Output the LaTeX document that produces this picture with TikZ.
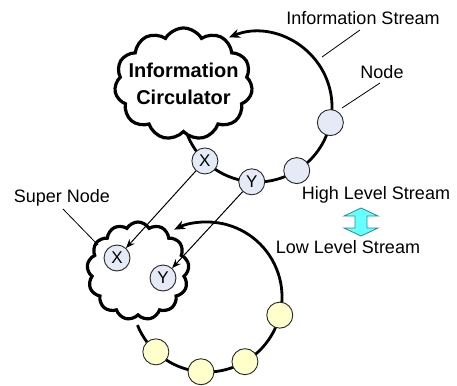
\documentclass[tikz,border=0pt]{standalone}
\usepackage{fontspec}
\setmainfont{Liberation Sans}
\usetikzlibrary{shapes.symbols,arrows.meta,calc}
\definecolor{nodeblue}{HTML}{E4EAF6}
\definecolor{nodeyellow}{HTML}{FFFFCC}
\definecolor{arrowcyan}{HTML}{66FFFF}
\definecolor{arrowedge}{HTML}{2E8B8B}
\begin{document}
\begin{tikzpicture}[x=1pt,y=-1pt,
  lbl/.style={font=\fontsize{18}{20}\selectfont, inner sep=0pt},
  cloudbox/.style={cloud, draw, line width=3.2pt, fill=white, inner sep=0pt},
  stream/.style={line width=2.8pt},
  leader/.style={line width=0.8pt},
  link/.style={line width=1pt, -{Stealth[length=9pt,width=7pt]}},
  ringnode/.style={circle, draw=black!85, line width=0.9pt, minimum size=26pt, inner sep=0pt, font=\fontsize{17}{17}\selectfont},
  bluenode/.style={ringnode, fill=nodeblue},
  yellownode/.style={ringnode, fill=nodeyellow}]
\useasboundingbox (0,0) rectangle (457,385);

% centres of the two rings
\coordinate (C1) at (257,107);
\coordinate (C2) at (207,297);

% clouds
\node[cloudbox, cloud puffs=11, cloud puff arc=120, minimum width=138pt, minimum height=112pt] (cloudA) at (183.5,84) {};
\node[align=center, inner sep=0pt, font=\bfseries\fontsize{20}{27}\selectfont] (cloudAtext) at (cloudA.center) {Information\\Circulator};
\node[cloudbox, cloud puffs=13, cloud puff arc=120, minimum width=102pt, minimum height=98pt] (cloudB) at (138,271) {};

% streams
\draw[stream, -{Stealth[length=11pt,width=9pt]}] ($(C1)+(158:75)$) arc[start angle=158, end angle=-112, radius=75];
\draw[stream, -{Stealth[length=11pt,width=9pt]}] ($(C2)+(158:75)$) arc[start angle=158, end angle=-116, radius=75];

% nodes on upper ring
\node[bluenode] (X1) at ($(C1)+(134:75)$) {X};
\node[bluenode] (Y1) at ($(C1)+(94:75)$) {Y};
\node[bluenode] (N2) at ($(C1)+(58:75)$) {};
\node[bluenode] (N1) at ($(C1)+(12:75)$) {};

% nodes on lower ring
\node[yellownode] (L1) at ($(C2)+(14:75)$) {};
\node[yellownode] (L2) at ($(C2)+(59.6:75)$) {};
\node[yellownode] (L3) at ($(C2)+(94.6:75)$) {};
\node[yellownode] (L4) at ($(C2)+(133:75)$) {};

% nodes inside super node
\node[bluenode] (X2) at (117,258) {X};
\node[bluenode] (Y2) at (163,278) {Y};

% links
\draw[link] (X1) -- (X2);
\draw[link] (Y1) -- (Y2);

% labels
\node[lbl] (infostream) at (363,18) {Information Stream};
\coordinate (isA) at (360,30);
\coordinate (isB) at (322,57);
\draw[leader] (isA) -- (isB);

\node[lbl] (nodelbl) at (382,72) {Node};
\coordinate (ndA) at (380,83);
\coordinate (ndB) at (342,108);
\draw[leader] (ndA) -- (ndB);

\node[lbl] (superlbl) at (62,198) {Super Node};
\coordinate (snA) at (63,209);
\coordinate (snB) at (98,245);
\draw[leader] (snA) -- (snB);

\node[lbl] (high) at (376,195) {High Level Stream};
\node[lbl] (low) at (348,247) {Low Level Stream};

% double arrow
\draw[fill=arrowcyan, draw=arrowedge, line width=0.8pt, line join=miter]
  (361,208) -- (378,216) -- (367,216) -- (367,228) -- (378,228) -- (361,236)
  -- (344,228) -- (355,228) -- (355,216) -- (344,216) -- cycle;
\end{tikzpicture}
\end{document}
